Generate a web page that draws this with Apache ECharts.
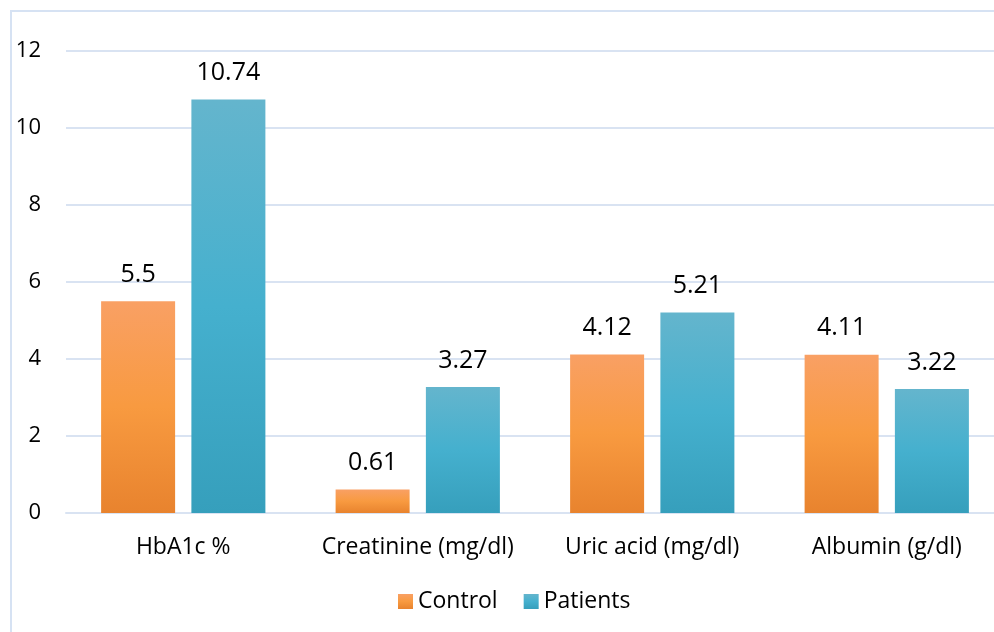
<!DOCTYPE html>
<html><head><meta charset="utf-8">
<script src="https://cdn.jsdelivr.net/npm/echarts@6/dist/echarts.min.js"></script>
<style>html,body{margin:0;padding:0;background:#fff}#c{width:994px;height:632px}</style>
</head><body><div id="c"></div>
<script>
const categories = ['HbA1c %', 'Creatinine (mg/dl)', 'Uric acid (mg/dl)', 'Albumin (g/dl)'];
const control = [5.5, 0.61, 4.12, 4.11];
const patients = [10.74, 3.27, 5.21, 3.22];
const yTicks = { min: 0, max: 12, interval: 2 };

const font = '"Open Sans", "Noto Sans", sans-serif';
const grad = (a, b, c) => new echarts.graphic.LinearGradient(0, 0, 0, 1, [
  { offset: 0, color: a }, { offset: 0.5, color: b }, { offset: 1, color: c }]);
const chart = echarts.init(document.getElementById('c'));
chart.setOption({
  animation: false,
  graphic: [{ type: 'rect', shape: { x: 11, y: 11, width: 1100, height: 1100 },
    style: { fill: 'none', stroke: '#D6E2F3', lineWidth: 2 }, z: -1 }],
  grid: { left: 66, width: 938, top: 51, height: 462, containLabel: false, outerBoundsMode: 'none' },
  legend: {
    top: 585, left: 393, itemWidth: 15, itemHeight: 15, itemGap: 26,
    icon: 'rect',
    textStyle: { fontFamily: font, fontSize: 23, color: '#000' },
    data: ['Control', 'Patients']
  },
  xAxis: {
    type: 'category', data: categories,
    axisLine: { lineStyle: { color: '#D9E3F2', width: 2 } },
    axisTick: { show: false },
    axisLabel: { fontFamily: font, fontSize: 23, color: '#000', margin: 23, interval: 0 }
  },
  yAxis: {
    type: 'value', min: yTicks.min, max: yTicks.max, interval: yTicks.interval,
    axisLine: { show: false }, axisTick: { show: false },
    splitLine: { lineStyle: { color: '#D9E3F2', width: 2 } },
    axisLabel: { fontFamily: font, fontSize: 22, color: '#000', margin: 25 }
  },
  series: [
    { name: 'Control', type: 'bar', data: control, barWidth: 74, barGap: '22%',
      itemStyle: { color: grad('#F9A064', '#F89A40', '#E8832E') },
      label: { show: true, position: 'top', distance: 14, fontFamily: font, fontSize: 25, color: '#000' } },
    { name: 'Patients', type: 'bar', data: patients, barWidth: 74,
      itemStyle: { color: grad('#64B5CD', '#45B0CE', '#369FBC') },
      label: { show: true, position: 'top', distance: 14, fontFamily: font, fontSize: 25, color: '#000' } }
  ]
});
</script></body></html>
